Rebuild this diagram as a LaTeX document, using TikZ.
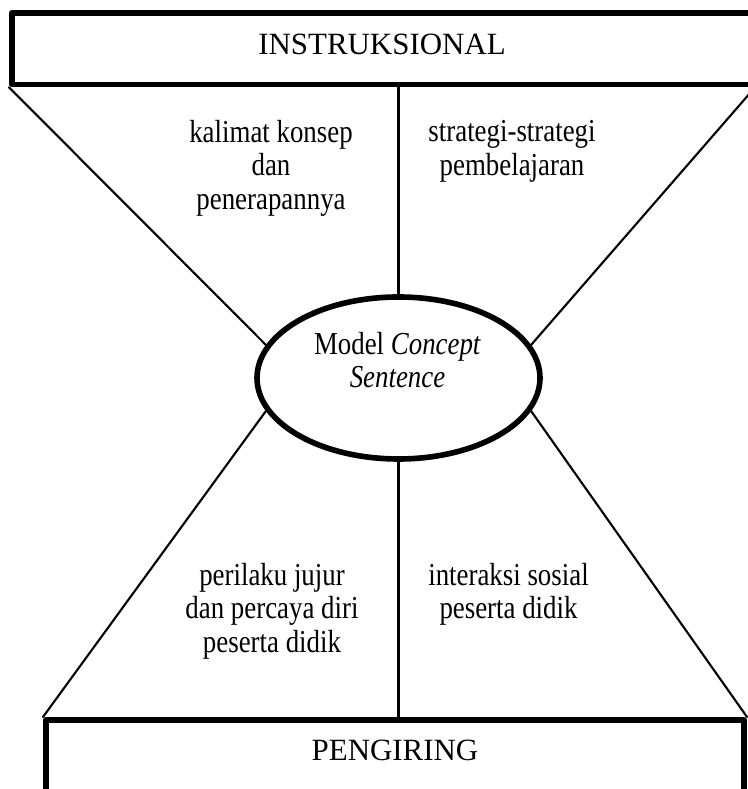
\documentclass[tikz,border=0pt]{standalone}
\usepackage{fontspec}
\setmainfont{Liberation Serif}
\newfontfamily\condfont[FakeStretch=0.84]{Liberation Serif}
\usetikzlibrary{shapes.geometric}

\begin{document}
\begin{tikzpicture}[line cap=round,line join=round,x=1.0cm,y=1.0cm,
  bigbox/.style={draw,rectangle,line width=1.6pt,inner xsep=0pt,text height=0.203cm,font=\fontsize{8.8}{10}\selectfont},
  csmellipse/.style={draw,ellipse,line width=1.6pt,minimum width=2.83cm,minimum height=1.62cm,inner sep=0pt},
  txt/.style={align=center,font=\condfont\fontsize{9.1}{9.53}\selectfont},
  thinline/.style={line width=0.6pt}]

\useasboundingbox (0,0) rectangle (7.47,7.89);

% boxes
\node[bigbox,anchor=north,minimum width=7.404cm,text depth=0.09cm,inner ysep=0.212cm] (instr) at (3.82,7.79) {INSTRUKSIONAL};
\node[bigbox,anchor=north,minimum width=6.984cm,text depth=0.6cm,inner ysep=0.202cm] (peng) at (3.95,0.72) {PENGIRING};

% ellipse
\node[csmellipse] (csm) at (3.985,4.11) {};
\node[txt] (csmtxt) at (3.975,4.29) {Model \textit{Concept}\\\textit{Sentence}};

% texts
\node[txt] (kalimat) at (2.71,6.21) {kalimat konsep\\dan\\penerapannya};
\node[txt] (strategi) at (5.12,6.377) {strategi-strategi\\pembelajaran};
\node[txt] (perilaku) at (2.72,1.78) {perilaku jujur\\dan percaya diri\\peserta didik};
\node[txt] (interaksi) at (5.085,1.947) {interaksi sosial\\peserta didik};

% lines
\draw[thinline] (instr.south west)--(csm.166);
\draw[thinline] (instr.south east)--(csm.14);
\draw[thinline] (instr.south -| csm.north)--(csm.north);
\draw[thinline] (csm.194)--(peng.north west);
\draw[thinline] (csm.346)--(peng.north east);
\draw[thinline] (csm.south)--(csm.south |- peng.north);
\end{tikzpicture}
\end{document}
